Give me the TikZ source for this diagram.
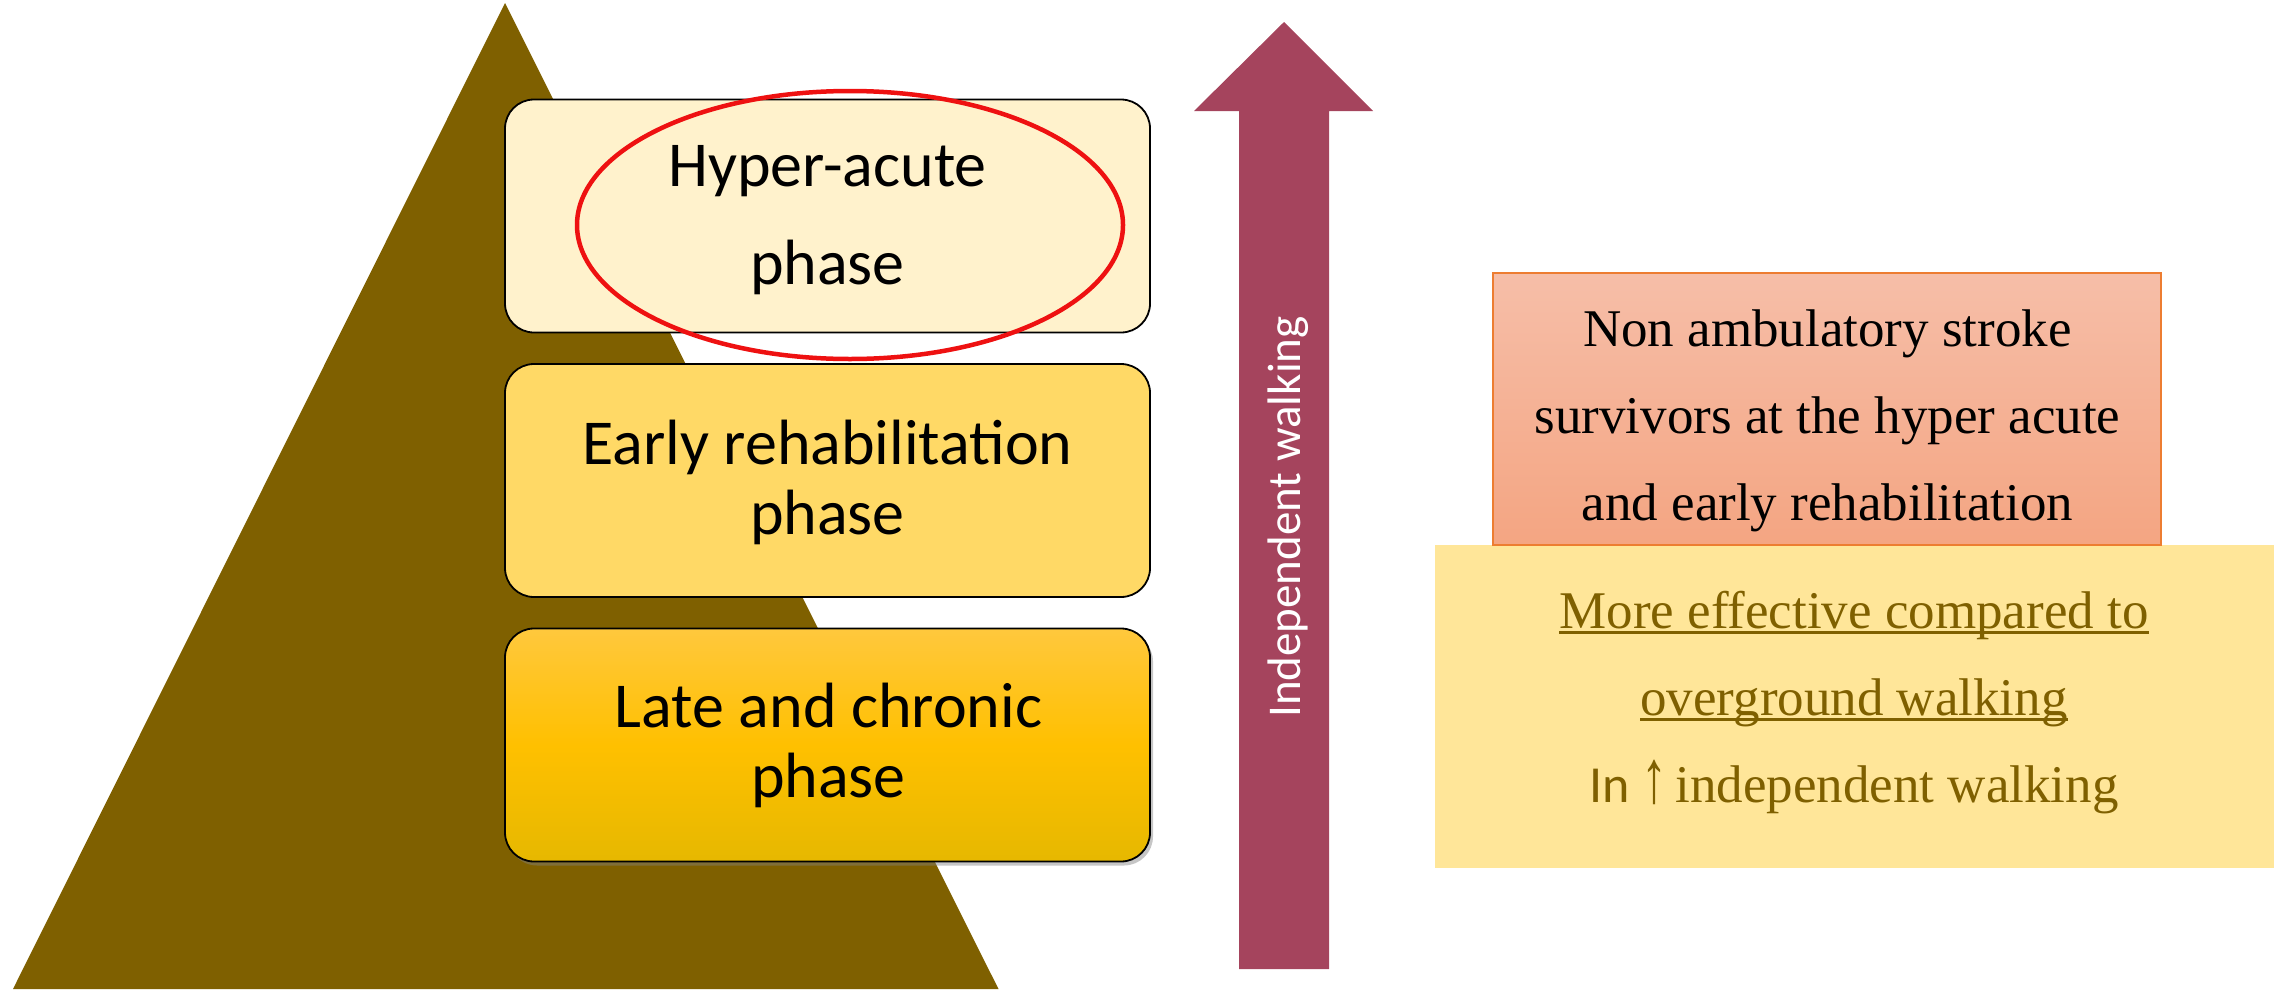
\documentclass[tikz,border=0pt]{standalone}
\usepackage{fontspec}
\setmainfont{Carlito}
\newfontfamily\serifc{Liberation Serif}
\newfontfamily\arrowsans{Liberation Sans}
\newcommand\myuline[1]{\setbox0\hbox{#1}\rlap{\smash{\raisebox{-5.5pt}{\rule{\wd0}{3pt}}}}\box0}
\usetikzlibrary{shadows,shapes.geometric}
\definecolor{tricol}{HTML}{7F6000}
\definecolor{boxA}{HTML}{FFF2CC}
\definecolor{boxB}{HTML}{FFD966}
\definecolor{boxCtop}{HTML}{FFC83D}
\definecolor{boxCmid}{HTML}{FFC000}
\definecolor{boxCbot}{HTML}{E6B800}
\definecolor{arrowcol}{HTML}{A5445D}
\definecolor{ringcol}{HTML}{EE1111}
\definecolor{orangetop}{HTML}{F6BEA8}
\definecolor{orangebot}{HTML}{F4A582}
\definecolor{orangeline}{HTML}{ED7D31}
\definecolor{yelbox}{HTML}{FFE699}
\tikzset{
  phasebox/.style={draw=black, line width=1.8pt, rounded corners=29pt,
    minimum width=645pt, minimum height=233pt, inner sep=0pt},
  phasetext/.style={anchor=base, align=center, inner sep=0pt,
    font=\fontsize{64}{70}\selectfont},
  sidetext/.style={anchor=base, align=center, inner sep=0pt,
    font=\serifc\fontsize{53}{87}\selectfont},
}
\begin{document}
\begin{tikzpicture}[x=1pt,y=-1pt]
\useasboundingbox (0,0) rectangle (2277,993);
% pyramid
\fill[tricol] (505,3) -- (998.5,989) -- (13,989) -- cycle;
% phase boxes
\node[phasebox, fill=boxA] (hyper) at (827.5,216) {};
\node[phasebox, fill=boxB] (early) at (827.5,480.5) {};
\node[phasebox, top color=boxCtop, bottom color=boxCbot, middle color=boxCmid,
  drop shadow={opacity=0.45, shadow xshift=3pt, shadow yshift=-4pt}] (late) at (827.5,745) {};
\node[phasetext, font=\fontsize{64}{98}\selectfont] (hypert) at (827.5,284) {Hyper-acute\\phase};
\node[phasetext] (earlyt) at (827.5,534) {Early rehabilitation\\phase};
\node[phasetext] (latet) at (828.5,797) {Late and chronic\\phase};
% red ring
\node[draw=ringcol, line width=4.5pt, ellipse, inner sep=0pt, minimum width=546pt, minimum height=268pt] (ring) at (850,225) {};
% arrow
\fill[arrowcol] (1239,969) -- (1239,111) -- (1194,111) -- (1284,22) -- (1373,111) -- (1329,111) -- (1329,969) -- cycle;
\node[rotate=90, anchor=base, inner sep=0pt, text=white, font=\fontsize{47}{56}\selectfont] (iw) at (1300,517) {Independent walking};
% right boxes
\node[fill=yelbox, minimum width=839pt, minimum height=323pt, inner sep=0pt] (more) at (1854.5,706.5) {};
\node[draw=orangeline, line width=1.2pt, top color=orangetop, bottom color=orangebot,
  minimum width=668pt, minimum height=272pt, inner sep=0pt] (non) at (1827,409) {};
\node[sidetext] (nont) at (1827.5,520) {Non ambulatory stroke\\survivors at the hyper acute\\and early rehabilitation};
\node[sidetext, text=tricol] (moret) at (1854,802)
  {\myuline{More effective compared to}\\\myuline{overground walking}\\{\normalfont\fontsize{52}{87}\selectfont In {\arrowsans\scalebox{1}[1.45]{↑}}\kern8pt}independent walking};
\end{tikzpicture}
\end{document}
